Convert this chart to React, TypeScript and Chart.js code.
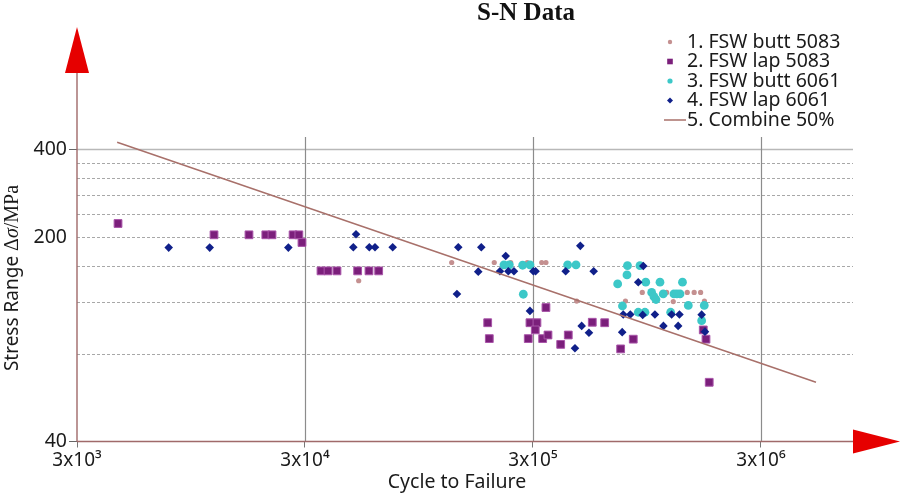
import { useEffect, useRef } from 'react';
import { Chart, registerables } from 'chart.js';

Chart.register(...registerables);

const chartTitle = 'S-N Data';
const xTitle = 'Cycle to Failure';
const yTitleParts = ['Stress Range ', 'Δ', 'σ', '/MPa'];
const xTicks = [3000, 30000, 300000, 3000000];
const xTickLabels = ['3x10³', '3x10⁴', '3x10⁵', '3x10⁶'];
const yTicks = [40, 80, 120, 160, 200, 240, 280, 320, 360, 400];
const yLabeled = [40, 200, 400];
const xMin = 3000;
const xMax = 7600000;
const yMin = 40;
const yMax = 441;

const seriesNames = ['1. FSW butt 5083', '2. FSW lap 5083', '3. FSW butt 6061', '4. FSW lap 6061', '5. Combine 50%'];

const butt5083N = [51600, 132000, 202900, 239500, 283200, 327700, 342000, 466500, 763500, 904800, 1157000, 1237000, 1425000, 1528000, 1631000, 1695000];
const butt5083S = [142, 164, 164, 164, 164, 164, 164, 121, 121, 129.5, 129.5, 120.5, 129.5, 129.5, 129.5, 121];

const lap5083N = [4540, 11970, 17040, 20200, 21500, 26600, 28200, 29100, 35260, 37860, 41440, 51070, 57260, 63150, 189900, 193000, 291000, 312300, 307000, 286000, 342000, 330900, 349100, 396900, 428500, 546100, 619000, 727300, 826000, 1675000, 1722000, 1779000];
const lap5083S = [223, 204, 204, 204, 204, 204, 204, 192, 153.5, 153.5, 153.5, 153.5, 153.5, 153.5, 102, 90, 102, 102, 96.4, 90, 115, 90, 92.6, 86, 92.6, 102.4, 102, 83, 89.6, 96.4, 89.6, 63.8];

const butt6061N = [223800, 236200, 270300, 291000, 425800, 463300, 272100, 779200, 883900, 775200, 705700, 937000, 1082000, 1358000, 994700, 1018000, 1039000, 1118000, 1246000, 1284000, 1324000, 1440000, 1692000, 740700, 868800, 929500, 1205000, 1648000];
const butt6061S = [161, 161, 160.5, 161, 161, 161, 127.7, 160, 160, 148.7, 138.5, 140.4, 140.4, 140.4, 129.5, 125.3, 122.5, 128, 128, 128, 128, 116.9, 116.9, 116.4, 110.8, 110.8, 110.8, 103.7];

const lap6061N = [7575, 11460, 25360, 50230, 48870, 57450, 60840, 72750, 141100, 178000, 139200, 227800, 172600, 214900, 233900, 247600, 301000, 308000, 417400, 553900, 483900, 291000, 490600, 528000, 458500, 914000, 868800, 746700, 801600, 908600, 1028000, 1217000, 1317000, 1120000, 1300000, 738700, 1648000, 1704000];
const lap6061S = [184.4, 184.4, 184.4, 205, 185, 185, 185, 185, 185, 185, 128, 172.7, 152.6, 153, 153, 153, 153, 153, 153, 153, 187, 112, 99.5, 94.3, 83.4, 159.6, 140.4, 108.9, 108.9, 108.5, 108.9, 108.9, 108.9, 99.5, 99.5, 94.7, 108.7, 95.1];

const combineN = [4500, 5230000];
const combineS = [423, 63.8];

const SANS = "'Noto Sans', 'Open Sans', sans-serif";
const SERIF = "'Liberation Serif', 'DejaVu Serif', serif";

const zip = (xs: number[], ys: number[]) => xs.map((x, i) => ({ x, y: ys[i] }));

const legendMarkers = [
  { kind: 'circle', color: '#c49090', r: 2.2 },
  { kind: 'rect', color: '#7b1f7b', r: 2.8 },
  { kind: 'circle', color: '#3cc8c8', r: 2.6 },
  { kind: 'diamond', color: '#10208a', r: 3 },
  { kind: 'line', color: '#a8706a', r: 0 },
];

const decor = {
  id: 'decor',
  beforeDatasetsDraw(chart: any) {
    const { ctx, chartArea: a, scales } = chart;
    const x = scales.x;
    const y = scales.y;
    ctx.save();
    yTicks.forEach((v) => {
      if (v === yMin) return;
      const py = Math.round(y.getPixelForValue(v)) + 0.5;
      ctx.beginPath();
      if (v === 400) {
        ctx.setLineDash([]);
        ctx.strokeStyle = '#b8b8b8';
        ctx.lineWidth = 1.6;
      } else {
        ctx.setLineDash([3, 2]);
        ctx.strokeStyle = '#a8a8a8';
        ctx.lineWidth = 1;
      }
      ctx.moveTo(a.left, py);
      ctx.lineTo(a.right, py);
      ctx.stroke();
    });
    ctx.setLineDash([]);
    xTicks.forEach((v) => {
      if (v === xMin) return;
      const px = Math.round(x.getPixelForValue(v)) + 0.5;
      ctx.beginPath();
      ctx.strokeStyle = '#8c8c8c';
      ctx.lineWidth = 1.2;
      ctx.moveTo(px, a.top);
      ctx.lineTo(px, a.bottom);
      ctx.stroke();
    });
    ctx.restore();
  },
  afterDraw(chart: any) {
    const { ctx, chartArea: a } = chart;
    ctx.save();
    // axis lines
    ctx.strokeStyle = '#a06a6a';
    ctx.lineWidth = 1.4;
    ctx.beginPath();
    ctx.moveTo(a.left, a.bottom);
    ctx.lineTo(a.left, 73);
    ctx.moveTo(a.left, a.bottom);
    ctx.lineTo(a.right, a.bottom);
    ctx.stroke();
    // arrows
    ctx.fillStyle = '#e60000';
    ctx.beginPath();
    ctx.moveTo(a.left, 27);
    ctx.lineTo(a.left - 12, 73);
    ctx.lineTo(a.left + 12, 73);
    ctx.closePath();
    ctx.fill();
    ctx.beginPath();
    ctx.moveTo(a.right + 47, a.bottom);
    ctx.lineTo(a.right, a.bottom - 12);
    ctx.lineTo(a.right, a.bottom + 12);
    ctx.closePath();
    ctx.fill();

    // title
    ctx.fillStyle = '#111';
    ctx.font = `bold 25px ${SERIF}`;
    ctx.textAlign = 'center';
    ctx.textBaseline = 'middle';
    ctx.fillText(chartTitle, 526, 14);

    // x title
    ctx.font = `19.5px ${SANS}`;
    ctx.fillStyle = '#1a1a1a';
    ctx.fillText(xTitle, 457, 482);

    // y title (mixed fonts)
    const fonts = [`19px ${SANS}`, `20px ${SERIF}`, `italic 20px ${SERIF}`, `20px ${SERIF}`];
    let total = 0;
    const widths = yTitleParts.map((t, i) => {
      ctx.font = fonts[i];
      const w = ctx.measureText(t).width;
      total += w;
      return w;
    });
    ctx.translate(13, 278);
    ctx.rotate(-Math.PI / 2);
    ctx.textAlign = 'left';
    let cx = -total / 2;
    yTitleParts.forEach((t, i) => {
      ctx.font = fonts[i];
      ctx.fillText(t, cx, 0);
      cx += widths[i];
    });
    ctx.setTransform(1, 0, 0, 1, 0, 0);
    ctx.restore();

    // legend
    ctx.save();
    const ys = [42, 61.5, 81, 100.5, 120];
    const mx = 670;
    chart.data.datasets.forEach((ds: any, i: number) => {
      const m = legendMarkers[i];
      const ly = ys[i];
      ctx.fillStyle = m.color;
      ctx.strokeStyle = m.color;
      ctx.beginPath();
      if (m.kind === 'circle') {
        ctx.arc(mx, ly, m.r, 0, Math.PI * 2);
        ctx.fill();
      } else if (m.kind === 'rect') {
        ctx.fillRect(mx - m.r, ly - m.r, m.r * 2, m.r * 2);
      } else if (m.kind === 'diamond') {
        ctx.moveTo(mx - m.r, ly);
        ctx.lineTo(mx, ly - m.r);
        ctx.lineTo(mx + m.r, ly);
        ctx.lineTo(mx, ly + m.r);
        ctx.closePath();
        ctx.fill();
      } else {
        ctx.lineWidth = 1.5;
        ctx.moveTo(664, ly);
        ctx.lineTo(686, ly);
        ctx.stroke();
      }
      ctx.fillStyle = '#1a1a1a';
      ctx.font = `19.5px ${SANS}`;
      ctx.textAlign = 'left';
      ctx.textBaseline = 'middle';
      ctx.fillText(ds.label, 687, ly);
    });
    ctx.restore();
  },
};

export default function App() {
  const ref = useRef<HTMLCanvasElement | null>(null);

  useEffect(() => {
    document.body.style.margin = '0';
    if (!ref.current) return;
    const chart = new Chart(ref.current, {
      type: 'scatter',
      data: {
        datasets: [
          {
            label: seriesNames[0],
            data: zip(butt5083N, butt5083S),
            pointStyle: 'circle',
            pointRadius: 2.6,
            backgroundColor: '#c49090',
            borderColor: '#c49090',
            borderWidth: 0,
            order: 4,
          },
          {
            label: seriesNames[1],
            data: zip(lap5083N, lap5083S),
            pointStyle: 'rect',
            pointRadius: 5.5,
            backgroundColor: '#7b1f7b',
            borderColor: '#a955a9',
            borderWidth: 1,
            order: 3,
          },
          {
            label: seriesNames[2],
            data: zip(butt6061N, butt6061S),
            pointStyle: 'circle',
            pointRadius: 4.4,
            backgroundColor: '#3cc8c8',
            borderColor: '#3cc8c8',
            borderWidth: 0,
            order: 2,
          },
          {
            label: seriesNames[3],
            data: zip(lap6061N, lap6061S),
            pointStyle: 'rectRot',
            pointRadius: 4.3,
            backgroundColor: '#10208a',
            borderColor: '#10208a',
            borderWidth: 0,
            order: 1,
          },
          {
            label: seriesNames[4],
            type: 'line',
            data: zip(combineN, combineS),
            showLine: true,
            pointRadius: 0,
            borderColor: '#a8706a',
            borderWidth: 1.5,
            order: 0,
          } as any,
        ],
      },
      options: {
        responsive: false,
        animation: false,
        events: [],
        layout: { padding: { left: 0, top: 137, right: 51, bottom: 0 } },
        plugins: {
          legend: { display: false },
          title: { display: false },
          tooltip: { enabled: false },
        },
        scales: {
          x: {
            type: 'logarithmic',
            min: xMin,
            max: xMax,
            afterBuildTicks: (s: any) => {
              s.ticks = xTicks.map((v) => ({ value: v }));
            },
            afterFit: (s: any) => {
              s.height = 56.5;
            },
            border: { display: false },
            grid: {
              drawOnChartArea: false,
              drawTicks: true,
              tickLength: 6,
              tickColor: '#777',
              tickWidth: 1,
            },
            ticks: {
              autoSkip: false,
              maxRotation: 0,
              padding: 2,
              color: '#1a1a1a',
              font: { family: SANS, size: 19 },
              callback: (v: any) => {
                const i = xTicks.indexOf(Number(v));
                return i >= 0 ? xTickLabels[i] : '';
              },
            },
          },
          y: {
            type: 'logarithmic',
            min: yMin,
            max: yMax,
            afterBuildTicks: (s: any) => {
              s.ticks = yTicks.map((v) => ({ value: v }));
            },
            afterFit: (s: any) => {
              s.width = 77;
            },
            border: { display: false },
            grid: {
              drawOnChartArea: false,
              drawTicks: true,
              tickLength: 8,
              tickColor: (c: any) => (c.tick && (c.tick.value === 400 || c.tick.value === 40) ? '#666' : 'rgba(0,0,0,0)'),
              tickWidth: 1,
            },
            ticks: {
              autoSkip: false,
              padding: 2,
              color: '#1a1a1a',
              font: { family: SANS, size: 19.5 },
              callback: (v: any) => (yLabeled.includes(Number(v)) ? String(v) : ''),
            },
          },
        },
      },
      plugins: [decor],
    });
    return () => chart.destroy();
  }, []);

  return (
    <div style={{ width: 904, height: 498, position: 'relative', background: '#fff' }}>
      <canvas ref={ref} width={904} height={498} style={{ width: 904, height: 498, display: 'block' }} />
    </div>
  );
}
